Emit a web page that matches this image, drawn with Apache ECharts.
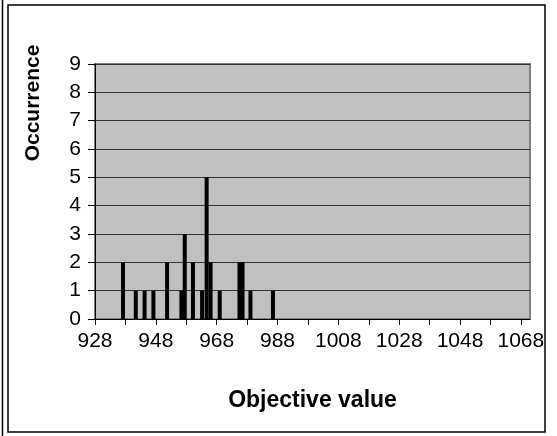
<!DOCTYPE html>
<html>
<head>
<meta charset="utf-8">
<title>Occurrence histogram</title>
<script src="https://cdn.jsdelivr.net/npm/echarts@6/dist/echarts.min.js"></script>
<style>
  html, body { margin: 0; padding: 0; background: #fff; }
  #chart { width: 557px; height: 436px; }
</style>
</head>
<body>
<div id="chart"></div>
<script>
// values
var objValues   = [937.2, 941.4, 944.3, 947.2, 951.7, 956.4, 957.5, 960.2, 963.2, 964.7, 966.0, 969.0, 975.5, 976.5, 979.1, 986.5];
var occurrences = [2, 1, 1, 1, 2, 1, 3, 2, 1, 5, 2, 1, 2, 2, 1, 1];

// axis ticks / labels
var xTicks  = [928, 938, 948, 958, 968, 978, 988, 998, 1008, 1018, 1028, 1038, 1048, 1058, 1068];
var xLabels = [928, 948, 968, 988, 1008, 1028, 1048, 1068];
var yMax = 9;

var pairs = objValues.map(function (v, i) { return [v, occurrences[i]]; });

var myChart = echarts.init(document.getElementById('chart'));

var font = 'Arial, "Liberation Sans", sans-serif';

var option = {
  animation: false,
  grid: {
    left: 95, top: 64, right: 27, bottom: 117,
    outerBoundsMode: 'none',
    show: true,
    backgroundColor: '#c0c0c0',
    borderColor: '#808080',
    borderWidth: 2
  },
  xAxis: {
    type: 'value',
    min: 928,
    max: 1071,
    name: 'Objective value',
    nameLocation: 'middle',
    nameGap: 70,
    nameTextStyle: { fontFamily: font, fontSize: 23, fontWeight: 'bold', color: '#000' },
    axisLine: { show: true, lineStyle: { color: '#000', width: 1 } },
    axisTick: { show: true, length: 6, customValues: xTicks, lineStyle: { color: '#000' } },
    axisLabel: {
      customValues: xLabels,
      margin: 12,
      fontFamily: font, fontSize: 21, color: '#000',
      formatter: function (v) { return String(v); }
    },
    splitLine: { show: false }
  },
  yAxis: {
    type: 'value',
    min: 0,
    max: yMax,
    interval: 1,
    axisLine: { show: true, lineStyle: { color: '#000', width: 1 } },
    axisTick: { show: true, length: 7, lineStyle: { color: '#000' } },
    axisLabel: { margin: 14, fontFamily: font, fontSize: 21, color: '#000' },
    splitLine: { show: true, lineStyle: { color: '#333', width: 1 } }
  },
  series: [{
    type: 'bar',
    data: pairs,
    barWidth: 4,
    itemStyle: { color: '#000' }
  }],
  graphic: [
    // outer frame + neighbour edge on the left
    { type: 'rect', shape: { x: 8, y: 5, width: 537, height: 427 }, style: { fill: null, stroke: '#000', lineWidth: 1.5 }, silent: true },
    { type: 'line', shape: { x1: 2.5, y1: 0, x2: 2.5, y2: 436 }, style: { stroke: '#000', lineWidth: 1.5 }, silent: true },
    {
      type: 'text',
      x: 33, y: 103,
      rotation: Math.PI / 2,
      style: {
        text: 'Occurrence',
        fontFamily: font, fontSize: 21, fontWeight: 'bold',
        fill: '#000', align: 'center', verticalAlign: 'middle'
      }
    }
  ]
};

myChart.setOption(option);
</script>
</body>
</html>
